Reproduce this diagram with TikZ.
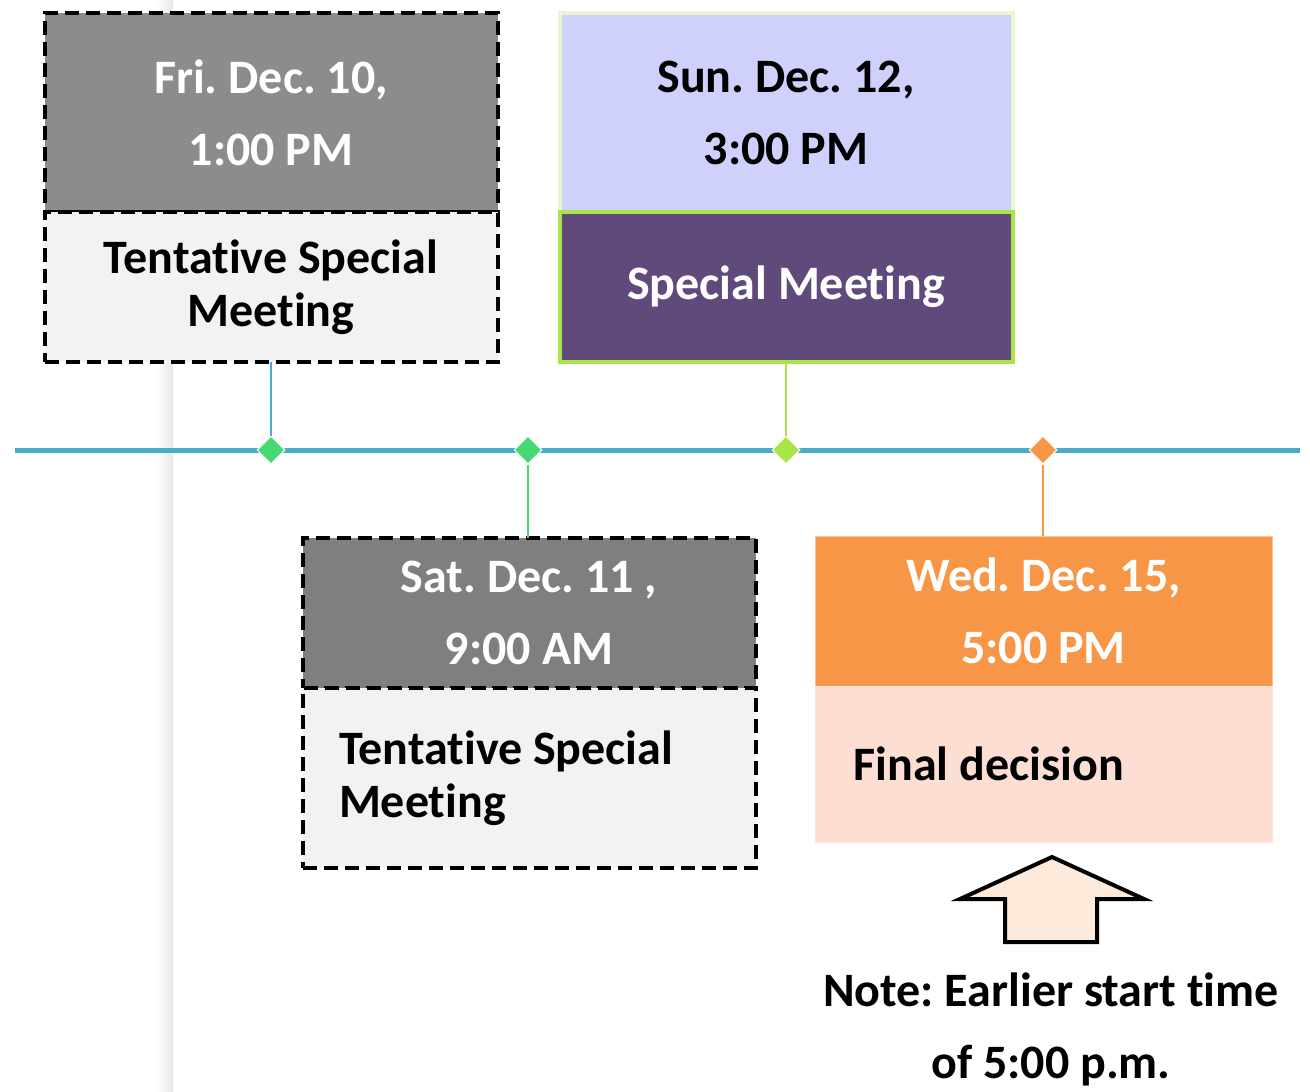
\documentclass[tikz,border=0pt]{standalone}
\usepackage{fontspec}
\setmainfont{Carlito}[Ligatures=NoCommon]
\usepackage{xcolor}
\usetikzlibrary{positioning,shapes.geometric}

\definecolor{headgray}{HTML}{8C8C8C}
\definecolor{headgrayb}{HTML}{7F7F7F}
\definecolor{lightbody}{HTML}{F2F2F2}
\definecolor{lavender}{HTML}{CFD0FC}
\definecolor{palegreen}{HTML}{EAF5D5}
\definecolor{plum}{HTML}{604A7B}
\definecolor{lime}{HTML}{A9E449}
\definecolor{tangerine}{HTML}{F79646}
\definecolor{peach}{HTML}{FCDED2}
\definecolor{arrowfill}{HTML}{FDEADA}
\definecolor{tlblue}{HTML}{4BACC6}
\definecolor{mint}{HTML}{46D873}

\tikzset{
  card/.style={rectangle, inner sep=0pt, outer sep=0pt, text width=#1, minimum width=#1, align=flush center},
  card/.default=226.5pt,
  tentative/.style={draw=black, line width=2pt, dash pattern=on 7pt off 3.5pt},
  twoline/.style={font=\bfseries\frenchspacing\fontsize{24}{36}\selectfont},
  oneline/.style={font=\bfseries\frenchspacing\fontsize{24}{26.5}\selectfont},
  marker/.style={diamond, draw=white, line width=0.5pt, inner sep=0pt, minimum width=14pt, minimum height=14pt},
}

\begin{document}
\begin{tikzpicture}[x=0.5pt, y=-0.5pt]
        \useasboundingbox (0,0) rectangle (1310,1091);
        % page edge
        \shade[left color=white, right color=black!10] (157,0) rectangle (173,1091);

        % timeline
        \coordinate (tlstart) at (15,450);
        \coordinate (tlend) at (1300,450);
        \draw[tlblue, line width=2.5pt] (tlstart) -- (tlend);

        % Fri
        \node[card, tentative, fill=headgray, text=white, twoline, minimum height=99.5pt] (frihead) at (271,112.5) {Fri. Dec. 10,\\1:00 PM};
        \node[card, tentative, fill=lightbody, oneline, minimum height=75pt, below=0pt of frihead] (fribody) {Tentative Special\\Meeting};

        % Sun
        \node[card, draw=palegreen, line width=2pt, fill=lavender, twoline, minimum height=99.5pt] (sunhead) at (786,112.5) {Sun. Dec. 12,\\3:00 PM};
        \node[card, draw=lime, line width=2pt, fill=plum, text=white, oneline, minimum height=75pt, below=0pt of sunhead] (sunbody) {Special Meeting};

        % Sat
        \node[card, tentative, fill=headgrayb, text=white, twoline, minimum height=75pt] (sathead) at (529,613) {Sat. Dec. 11 ,\\9:00 AM};
        \node[card, tentative, fill=lightbody, oneline, minimum height=90pt, align=flush left, text width=190pt, below=0pt of sathead] (satbody) {Tentative Special\\Meeting};

        % Wed
        \node[card=228.5pt, draw=tangerine!60, line width=0.4pt, fill=tangerine, text=white, twoline, minimum height=75pt] (wedhead) at (1043.5,611) {Wed. Dec. 15,\\5:00 PM};
        \node[card=228.5pt, draw=tangerine!25, line width=0.4pt, fill=peach, oneline, minimum height=78pt, align=flush left, text width=190pt, below=0pt of wedhead] (wedbody) {Final decision};

        % markers
        \node[marker, fill=mint] (d1) at (271,450) {};
        \node[marker, fill=mint] (d2) at (528,450) {};
        \node[marker, fill=lime] (d3) at (786,450) {};
        \node[marker, fill=tangerine] (d4) at (1043,450) {};
        \draw[tlblue, line width=0.8pt] (fribody.south) -- (d1.north);
        \draw[mint, line width=0.8pt] (d2.south) -- (sathead.north -| d2);
        \draw[lime, line width=0.8pt] (sunbody.south -| d3) -- (d3.north);
        \draw[tangerine, line width=0.8pt] (d4.south) -- (wedhead.north -| d4);

        % note
        \draw[line width=2pt, fill=arrowfill, line join=miter] (1052,857) -- (1144,899) -- (1097,899) -- (1097,942) -- (1005,942) -- (1005,899) -- (960,899) -- cycle;
        \node[align=center, twoline] (note) at (1051,1029) {Note: Earlier start time\\of 5:00 p.m.};
    \end{tikzpicture}
\end{document}
